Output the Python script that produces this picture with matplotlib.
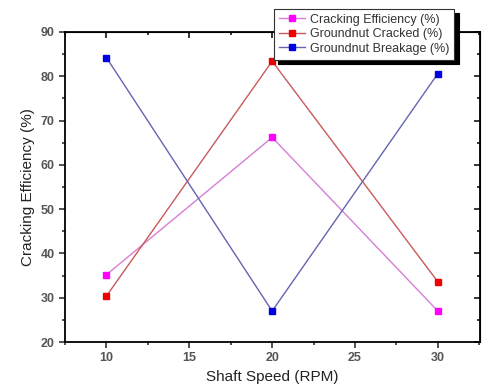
import matplotlib
matplotlib.use("Agg")
import matplotlib.pyplot as plt
from matplotlib.ticker import MultipleLocator

plt.rcParams["font.family"] = ["Liberation Sans", "DejaVu Sans"]

speed = [10, 20, 30]
cracking_eff = [35.2, 66.2, 27.0]
nut_cracked = [30.4, 83.4, 33.6]
nut_breakage = [84.2, 27.0, 80.6]

fig = plt.figure(figsize=(4.82, 3.9), dpi=100)
ax = fig.add_axes([0.135, 0.123, 0.861, 0.795])

series = [
    ("Cracking Efficiency (%)", cracking_eff, "#d77ed7", "#ff00ff"),
    ("Groundnut Cracked (%)", nut_cracked, "#c85a5a", "#ee0000"),
    ("Groundnut Breakage (%)", nut_breakage, "#6464b4", "#0000e0"),
]
for label, vals, lc, mc in series:
    ax.plot(speed, vals, color=lc, lw=1.0, marker="s", ms=5,
            mfc=mc, mec=mc, label=label)

ax.set_xlim(7.5, 32.55)
ax.set_ylim(20, 90)
ax.xaxis.set_major_locator(MultipleLocator(5))
ax.xaxis.set_minor_locator(MultipleLocator(2.5))
ax.yaxis.set_major_locator(MultipleLocator(10))
ax.yaxis.set_minor_locator(MultipleLocator(5))

for s in ax.spines.values():
    s.set_linewidth(1.3)
ax.tick_params(which="both", direction="out", width=1.1, colors="#222",
               labelcolor="#555", labelsize=9)
ax.tick_params(which="major", length=4)
ax.tick_params(which="minor", length=2.5)
for lab in ax.get_xticklabels() + ax.get_yticklabels():
    lab.set_fontweight("bold")

# inward ticks on top and right, no labels
ax2 = ax.secondary_xaxis("top")
ax2.xaxis.set_major_locator(MultipleLocator(5))
ax2.xaxis.set_minor_locator(MultipleLocator(2.5))
ax2.tick_params(which="both", direction="in", labeltop=False, width=1.1)
ax2.tick_params(which="major", length=4)
ax2.tick_params(which="minor", length=2.5)
ax3 = ax.secondary_yaxis("right")
ax3.yaxis.set_major_locator(MultipleLocator(10))
ax3.yaxis.set_minor_locator(MultipleLocator(5))
ax3.tick_params(which="both", direction="in", labelright=False, width=1.1)
ax3.tick_params(which="major", length=4)
ax3.tick_params(which="minor", length=2.5)

ax.set_xlabel("Shaft Speed (RPM)", fontsize=11, color="#222")
ax.set_ylabel("Cracking Efficiency (%)", fontsize=11, color="#222")

leg = ax.legend(loc="upper left", bbox_to_anchor=(0.503, 1.075), fontsize=9,
                frameon=True, fancybox=False,
                shadow={"color": "black", "alpha": 1, "ox": 3, "oy": -3},
                borderpad=0.4, labelspacing=0.2, handlelength=2.1,
                handletextpad=0.4, borderaxespad=0)
leg.get_frame().set_edgecolor("#333")
leg.get_frame().set_linewidth(0.8)
leg.get_frame().set_alpha(1)
for t in leg.get_texts():
    t.set_color("#333")

fig.savefig("out.png", dpi=100)
